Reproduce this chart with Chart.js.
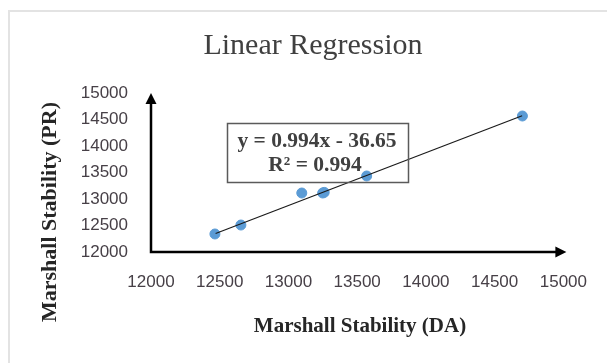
<!DOCTYPE html>
<html>
<head>
<meta charset="utf-8">
<script src="https://cdn.jsdelivr.net/npm/chart.js@4"></script>
<style>
  html, body { margin: 0; padding: 0; background: #fff; }
  #wrap { width: 607px; height: 363px; position: relative; }
</style>
</head>
<body>
<div id="wrap"><canvas id="myChart" width="607" height="363"></canvas></div>
<script>
// data
const stabilityDA = [12465, 12654, 13097, 13249, 13260, 13569, 14702];
const stabilityPR = [12340, 12509, 13113, 13113, 13125, 13434, 14566];
const trendX = [12470, 14700];
const trendY = [12350, 14570];
const tickMin = 12000;
const tickMax = 15000;
const tickStep = 500;
const chartTitle = 'Linear Regression';
const xTitle = 'Marshall Stability (DA)';
const yTitle = 'Marshall Stability (PR)';
const eqLines = ['y = 0.994x - 36.65', 'R\u00b2 = 0.994'];

const tickFont = { family: 'Liberation Sans', size: 17 };
const tickColor = '#474047';

// frame, title, arrows, axis titles and equation box
const decorations = {
    id: 'decorations',
    beforeDraw(chart) {
        const ctx = chart.ctx;
        ctx.save();
        ctx.strokeStyle = '#e3e3e3';
        ctx.lineWidth = 2;
        ctx.beginPath();
        ctx.moveTo(9, 363);
        ctx.lineTo(9, 11);
        ctx.lineTo(607, 11);
        ctx.stroke();
        ctx.restore();
    },
    afterDraw(chart) {
        const ctx = chart.ctx;
        const a = chart.chartArea;
        ctx.save();

        // title
        ctx.fillStyle = '#404040';
        ctx.textAlign = 'center';
        ctx.textBaseline = 'middle';
        ctx.font = '30px "Liberation Serif"';
        ctx.fillText(chartTitle, 313, 46);

        // axes with arrows
        ctx.strokeStyle = '#000';
        ctx.fillStyle = '#000';
        ctx.lineWidth = 2.5;
        ctx.beginPath();
        ctx.moveTo(a.left, a.top + 8);
        ctx.lineTo(a.left, a.bottom);
        ctx.lineTo(a.right - 6, a.bottom);
        ctx.stroke();
        ctx.beginPath();
        ctx.moveTo(a.left, a.top);
        ctx.lineTo(a.left - 5.5, a.top + 11);
        ctx.lineTo(a.left + 5.5, a.top + 11);
        ctx.closePath();
        ctx.fill();
        ctx.beginPath();
        ctx.moveTo(a.right + 3, a.bottom);
        ctx.lineTo(a.right - 8, a.bottom - 5.5);
        ctx.lineTo(a.right - 8, a.bottom + 5.5);
        ctx.closePath();
        ctx.fill();

        // axis titles
        ctx.fillStyle = '#262626';
        ctx.font = 'bold 21px "Liberation Serif"';
        ctx.fillText(xTitle, 360, 327);
        ctx.save();
        ctx.translate(50, 212);
        ctx.rotate(-Math.PI / 2);
        ctx.font = 'bold 22px "Liberation Serif"';
        ctx.fillText(yTitle, 0, 0);
        ctx.restore();

        // equation box
        ctx.strokeStyle = '#5a5a5a';
        ctx.lineWidth = 1.5;
        ctx.strokeRect(227.5, 123.5, 181, 59);
        ctx.fillStyle = '#404040';
        ctx.font = 'bold 21.5px "Liberation Serif"';
        ctx.fillText(eqLines[0], 317, 141);
        ctx.fillText(eqLines[1], 315, 165);
        ctx.restore();
    }
};

const ctx = document.getElementById('myChart').getContext('2d');
new Chart(ctx, {
    type: 'scatter',
    data: {
        datasets: [
            {
                label: 'Trend',
                type: 'line',
                data: trendX.map((x, i) => ({ x: x, y: trendY[i] })),
                borderColor: '#1a1a1a',
                borderWidth: 1.2,
                pointRadius: 0,
                fill: false,
                order: 0
            },
            {
                label: 'Marshall Stability',
                data: stabilityDA.map((x, i) => ({ x: x, y: stabilityPR[i] })),
                backgroundColor: '#5b9bd5',
                borderColor: '#5b9bd5',
                pointRadius: 5,
                pointHoverRadius: 5,
                order: 1
            }
        ]
    },
    options: {
        responsive: false,
        animation: false,
        events: [],
        layout: { padding: { top: 93, left: 81, right: 43, bottom: 61 } },
        plugins: {
            legend: { display: false },
            title: { display: false },
            tooltip: { enabled: false }
        },
        scales: {
            x: {
                type: 'linear',
                min: tickMin,
                max: tickMax,
                ticks: { stepSize: tickStep, padding: 20, font: tickFont, color: tickColor, maxRotation: 0, callback: v => String(v) },
                grid: { display: false, drawTicks: false },
                border: { display: false },
                afterFit: s => { s.height = 50; }
            },
            y: {
                type: 'linear',
                min: tickMin,
                max: tickMax,
                ticks: { stepSize: tickStep, padding: 23, font: tickFont, color: tickColor, callback: v => String(v) },
                grid: { display: false, drawTicks: false },
                border: { display: false },
                afterFit: s => { s.width = 70; }
            }
        }
    },
    plugins: [decorations]
});
</script>
</body>
</html>
